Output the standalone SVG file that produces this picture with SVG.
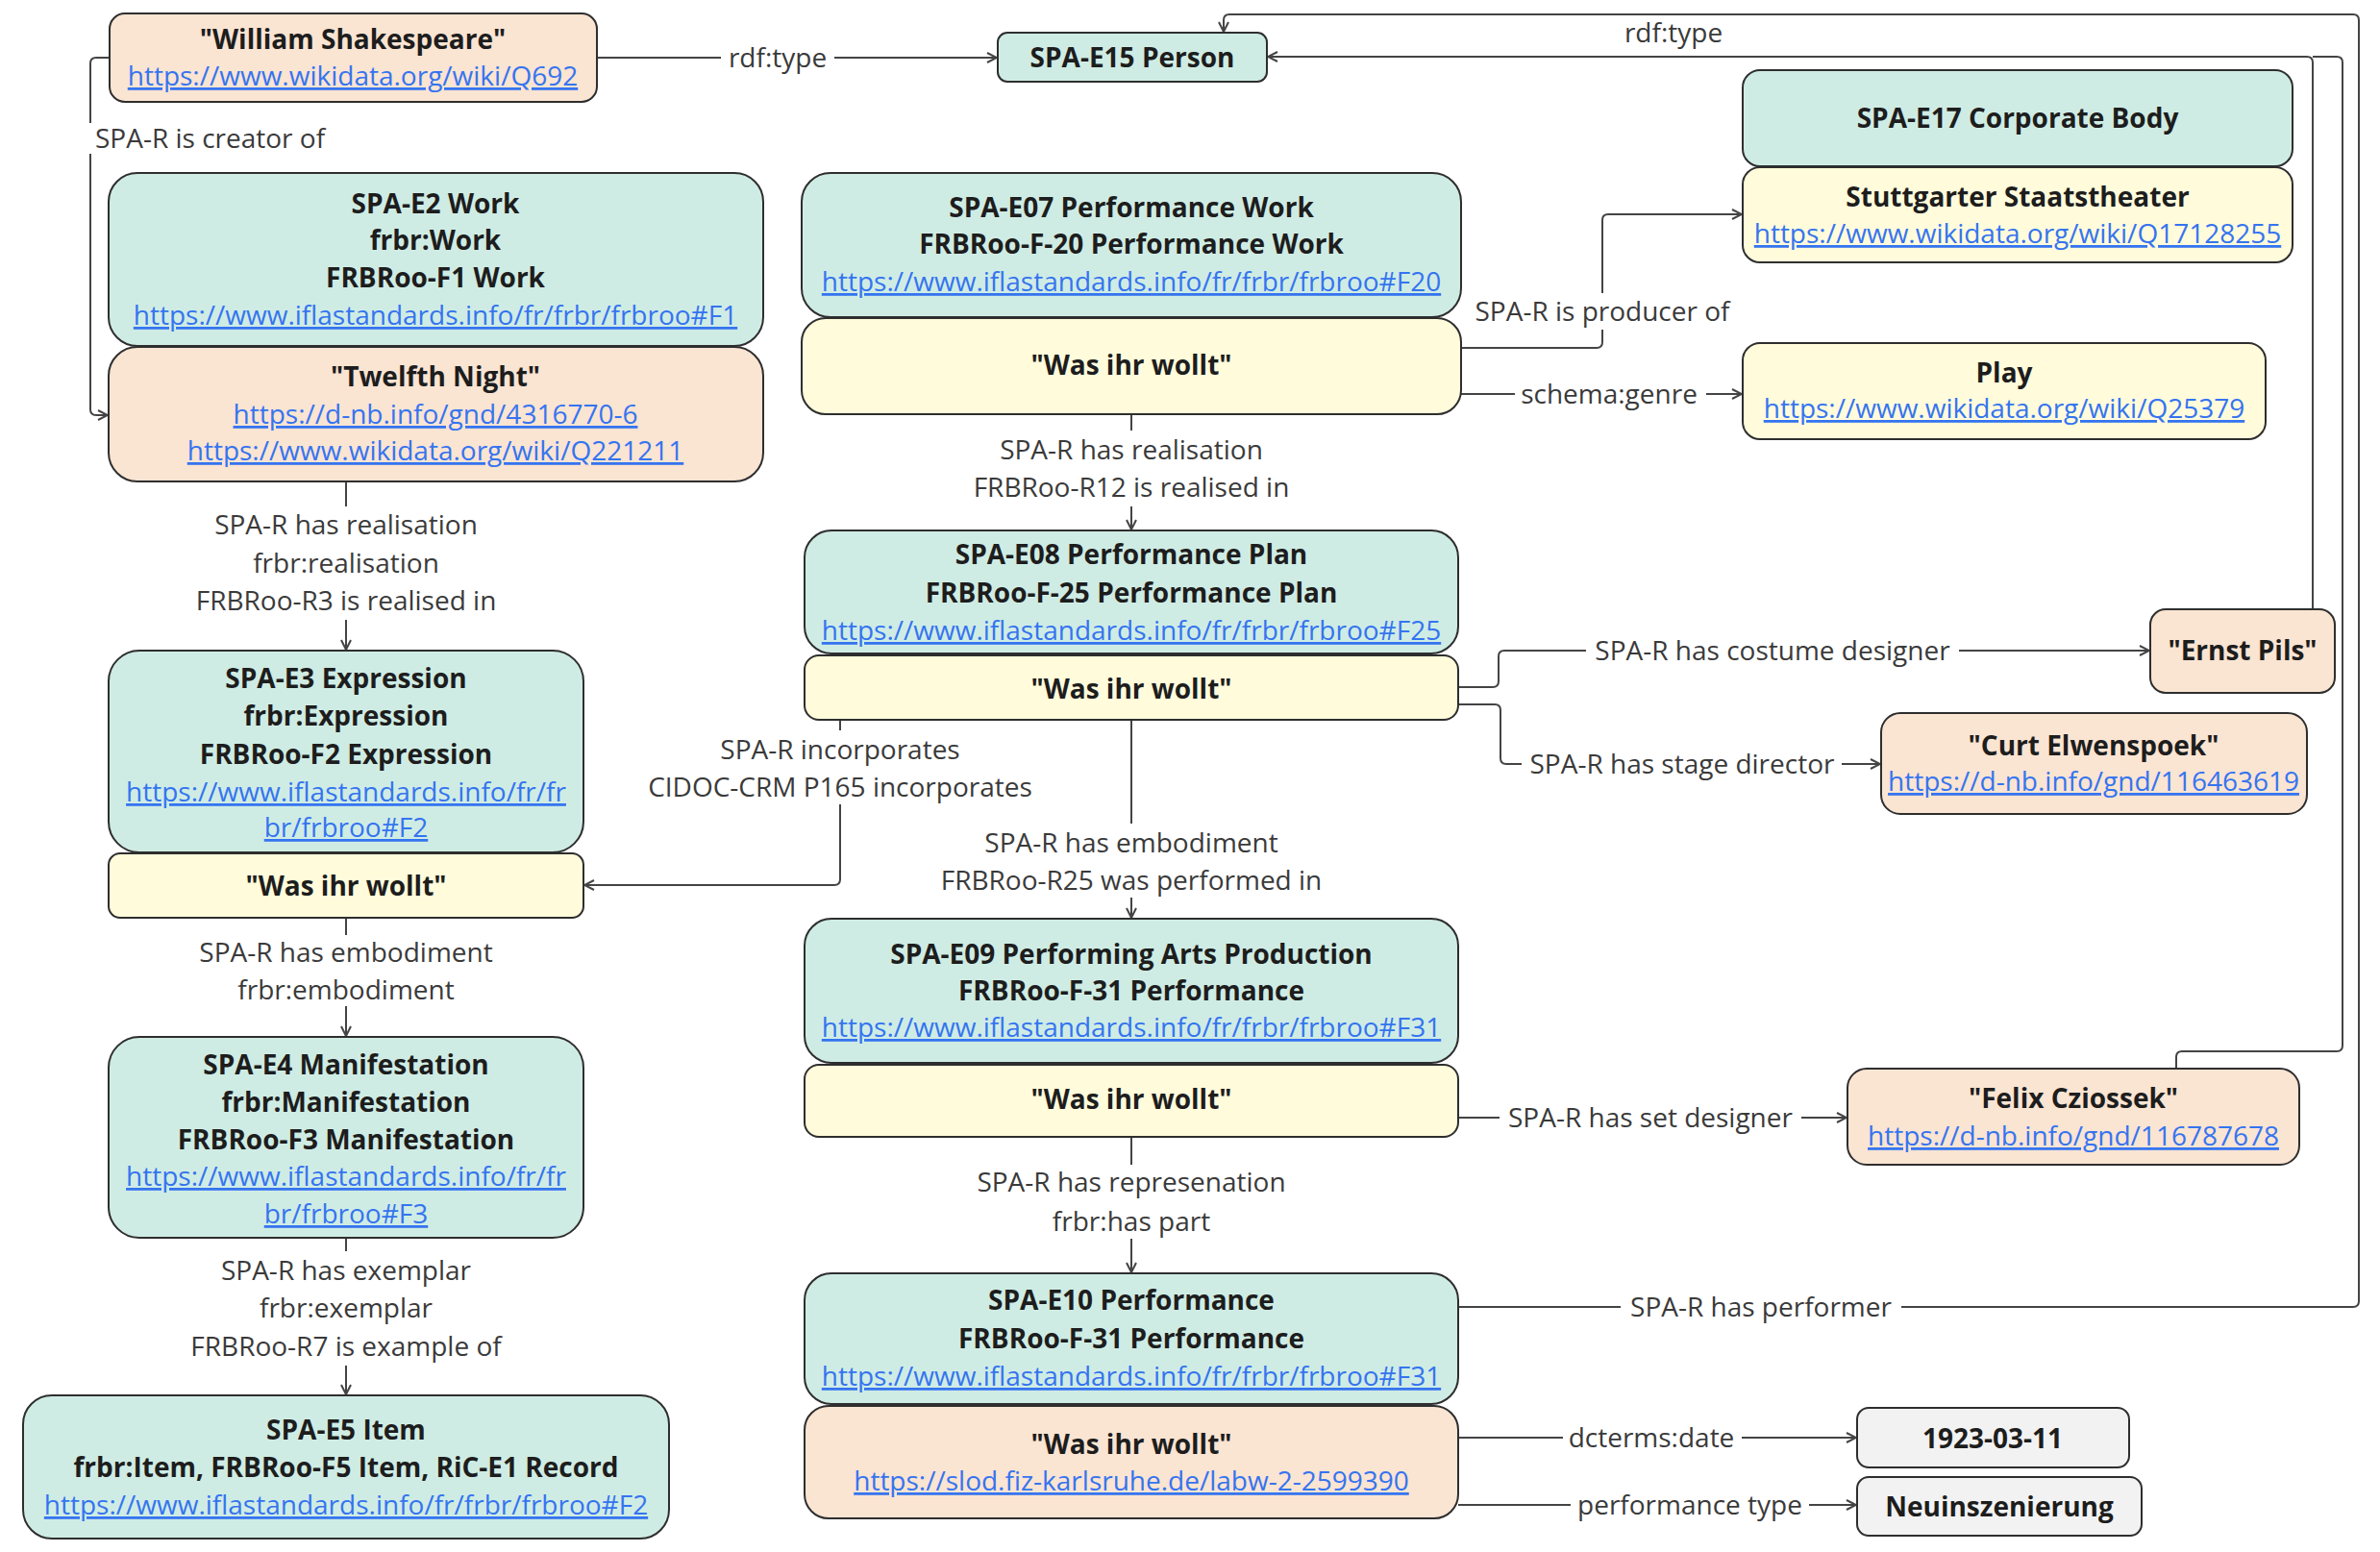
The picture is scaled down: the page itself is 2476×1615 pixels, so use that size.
<svg xmlns="http://www.w3.org/2000/svg" width="2476" height="1615" viewBox="0 0 2476 1615">
<defs>
<style>
text{font-family:"Open Sans","Noto Sans","Liberation Sans",sans-serif;font-size:28px;text-anchor:middle}
.t{font-weight:bold;fill:#1d1d1d}
.l{fill:#3574f0;text-decoration:underline}
.e{fill:#3a3a3a}
.teal{fill:#cfece4;stroke:#2e2e2e;stroke-width:2}
.yel{fill:#fffbdb;stroke:#2e2e2e;stroke-width:2}
.pch{fill:#fae4d2;stroke:#2e2e2e;stroke-width:2}
.gry{fill:#f2f2f2;stroke:#2e2e2e;stroke-width:2}
.c{fill:none;stroke:#444;stroke-width:2}
.a{marker-end:url(#arr)}
</style>
<marker id="arr" viewBox="0 0 12 12" refX="11" refY="6" markerWidth="12" markerHeight="12" markerUnits="userSpaceOnUse" orient="auto">
<path d="M1,1 L11,6 L1,11" fill="none" stroke="#444" stroke-width="2"/>
</marker>
</defs>
<rect width="2476" height="1615" fill="#ffffff"/>

<g id="connectors">
<!-- Shakespeare -> Person -->
<path class="c" d="M621,60 H750"/>
<path class="c a" d="M868,60 H1037"/>
<text class="e" x="809" y="70">rdf:type</text>
<!-- creator of -->
<path class="c" d="M113,60 H100 Q94,60 94,66 V128"/>
<path class="c a" d="M94,160 V426 Q94,432 100,432 H112"/>
<text class="e" x="99" y="154" style="text-anchor:start">SPA-R is creator of</text>
<!-- realisation (Twelfth Night -> E3) -->
<path class="c" d="M360,501 V527"/>
<path class="c a" d="M360,645 V676"/>
<text class="e" x="360" y="556">SPA-R has realisation</text>
<text class="e" x="360" y="596">frbr:realisation</text>
<text class="e" x="360" y="635">FRBRoo-R3 is realised in</text>
<!-- embodiment E3 -> E4 -->
<path class="c" d="M360,955 V973"/>
<path class="c a" d="M360,1047 V1078"/>
<text class="e" x="360" y="1001">SPA-R has embodiment</text>
<text class="e" x="360" y="1040">frbr:embodiment</text>
<!-- exemplar E4 -> E5 -->
<path class="c" d="M360,1288 V1302"/>
<path class="c a" d="M360,1421 V1451"/>
<text class="e" x="360" y="1332">SPA-R has exemplar</text>
<text class="e" x="360" y="1371">frbr:exemplar</text>
<text class="e" x="360" y="1411">FRBRoo-R7 is example of</text>
<!-- E07 -> E08 -->
<path class="c" d="M1177,431 V448"/>
<path class="c a" d="M1177,527 V551"/>
<text class="e" x="1177" y="478">SPA-R has realisation</text>
<text class="e" x="1177" y="517">FRBRoo-R12 is realised in</text>
<!-- incorporates -->
<path class="c" d="M874,749 V760"/>
<path class="c a" d="M874,837 V915 Q874,921 868,921 H608"/>
<text class="e" x="874" y="790">SPA-R incorporates</text>
<text class="e" x="874" y="829">CIDOC-CRM P165 incorporates</text>
<!-- E08 -> E09 -->
<path class="c" d="M1177,749 V857"/>
<path class="c a" d="M1177,934 V955"/>
<text class="e" x="1177" y="887">SPA-R has embodiment</text>
<text class="e" x="1177" y="926">FRBRoo-R25 was performed in</text>
<!-- E09 -> E10 -->
<path class="c" d="M1177,1183 V1212"/>
<path class="c a" d="M1177,1289 V1324"/>
<text class="e" x="1177" y="1240">SPA-R has represenation</text>
<text class="e" x="1177" y="1281">frbr:has part</text>
<!-- producer -->
<path class="c" d="M1520,362 H1661 Q1667,362 1667,356 V343"/>
<path class="c a" d="M1667,305 V229 Q1667,223 1673,223 H1812"/>
<text class="e" x="1667" y="334">SPA-R is producer of</text>
<!-- genre -->
<path class="c" d="M1520,410 H1576"/>
<path class="c a" d="M1775,410 H1812"/>
<text class="e" x="1674" y="420">schema:genre</text>
<!-- costume designer -->
<path class="c" d="M1517,715 H1553 Q1559,715 1559,709 V683 Q1559,677 1565,677 H1650"/>
<path class="c a" d="M2038,677 H2236"/>
<text class="e" x="1844" y="687">SPA-R has costume designer</text>
<!-- stage director -->
<path class="c" d="M1517,733 H1555 Q1561,733 1561,739 V789 Q1561,795 1567,795 H1583"/>
<path class="c a" d="M1916,795 H1956"/>
<text class="e" x="1750" y="805">SPA-R has stage director</text>
<!-- set designer -->
<path class="c" d="M1517,1163 H1560"/>
<path class="c a" d="M1874,1163 H1921"/>
<text class="e" x="1717" y="1173">SPA-R has set designer</text>
<!-- performer -->
<path class="c" d="M1517,1360 H1686"/>
<path class="c a" d="M1978,1360 H2448 Q2454,1360 2454,1354 V21 Q2454,15 2448,15 H1279 Q1273,15 1273,21 V33"/>
<text class="e" x="1832" y="1370">SPA-R has performer</text>
<!-- Ernst Pils -> Person -->
<path class="c a" d="M2406,634 V65 Q2406,59 2400,59 H1319"/>
<!-- Felix -> Person -->
<path class="c" d="M2264,1112 V1100 Q2264,1094 2270,1094 H2431 Q2437,1094 2437,1088 V65 Q2437,59 2431,59 H2406"/>
<text class="e" x="1741" y="44">rdf:type</text>
<!-- date -->
<path class="c" d="M1517,1496 H1626"/>
<path class="c a" d="M1812,1496 H1931"/>
<text class="e" x="1718" y="1506">dcterms:date</text>
<!-- performance type -->
<path class="c" d="M1517,1566 H1634"/>
<path class="c a" d="M1882,1566 H1931"/>
<text class="e" x="1758" y="1576">performance type</text>
</g>

<g id="shakespeare">
<rect class="pch" x="114" y="14" width="507" height="92" rx="16"/>
<text class="t" x="367" y="51">"William Shakespeare"</text>
<text class="l" x="367" y="89">https://www.wikidata.org/wiki/Q692</text>
</g>

<g id="person">
<rect class="teal" x="1038" y="34" width="280" height="51" rx="10"/>
<text class="t" x="1178" y="70">SPA-E15 Person</text>
</g>

<g id="corporate-body">
<rect class="teal" x="1813" y="73" width="572" height="100" rx="18"/>
<text class="t" x="2099" y="133">SPA-E17 Corporate Body</text>
</g>
<g id="stuttgarter">
<rect class="yel" x="1813" y="174" width="572" height="99" rx="18"/>
<text class="t" x="2099" y="215">Stuttgarter Staatstheater</text>
<text class="l" x="2099" y="253">https://www.wikidata.org/wiki/Q17128255</text>
</g>

<g id="play">
<rect class="yel" x="1813" y="357" width="544" height="100" rx="18"/>
<text class="t" x="2085" y="398">Play</text>
<text class="l" x="2085" y="435">https://www.wikidata.org/wiki/Q25379</text>
</g>

<g id="e2-work">
<rect class="teal" x="113" y="180" width="681" height="180" rx="30"/>
<text class="t" x="453" y="222">SPA-E2 Work</text>
<text class="t" x="453" y="260">frbr:Work</text>
<text class="t" x="453" y="299">FRBRoo-F1 Work</text>
<text class="l" x="453" y="338">https://www.iflastandards.info/fr/frbr/frbroo#F1</text>
</g>
<g id="twelfth-night">
<rect class="pch" x="113" y="361" width="681" height="140" rx="30"/>
<text class="t" x="453" y="402">"Twelfth Night"</text>
<text class="l" x="453" y="441">https://d-nb.info/gnd/4316770-6</text>
<text class="l" x="453" y="479">https://www.wikidata.org/wiki/Q221211</text>
</g>

<g id="e07">
<rect class="teal" x="834" y="180" width="686" height="150" rx="30"/>
<text class="t" x="1177" y="226">SPA-E07 Performance Work</text>
<text class="t" x="1177" y="264">FRBRoo-F-20 Performance Work</text>
<text class="l" x="1177" y="303">https://www.iflastandards.info/fr/frbr/frbroo#F20</text>
</g>
<g id="e07-title">
<rect class="yel" x="834" y="331" width="686" height="100" rx="25"/>
<text class="t" x="1177" y="390">"Was ihr wollt"</text>
</g>

<g id="e08">
<rect class="teal" x="837" y="552" width="680" height="128" rx="28"/>
<text class="t" x="1177" y="587">SPA-E08 Performance Plan</text>
<text class="t" x="1177" y="627">FRBRoo-F-25 Performance Plan</text>
<text class="l" x="1177" y="666">https://www.iflastandards.info/fr/frbr/frbroo#F25</text>
</g>
<g id="e08-title">
<rect class="yel" x="837" y="682" width="680" height="67" rx="15"/>
<text class="t" x="1177" y="727">"Was ihr wollt"</text>
</g>

<g id="e3">
<rect class="teal" x="113" y="677" width="494" height="210" rx="32"/>
<text class="t" x="360" y="716">SPA-E3 Expression</text>
<text class="t" x="360" y="755">frbr:Expression</text>
<text class="t" x="360" y="795">FRBRoo-F2 Expression</text>
<text class="l" x="360" y="834">https://www.iflastandards.info/fr/fr</text>
<text class="l" x="360" y="871">br/frbroo#F2</text>
</g>
<g id="e3-title">
<rect class="yel" x="113" y="888" width="494" height="67" rx="12"/>
<text class="t" x="360" y="932">"Was ihr wollt"</text>
</g>

<g id="e4">
<rect class="teal" x="113" y="1079" width="494" height="209" rx="32"/>
<text class="t" x="360" y="1118">SPA-E4 Manifestation</text>
<text class="t" x="360" y="1157">frbr:Manifestation</text>
<text class="t" x="360" y="1196">FRBRoo-F3 Manifestation</text>
<text class="l" x="360" y="1234">https://www.iflastandards.info/fr/fr</text>
<text class="l" x="360" y="1273">br/frbroo#F3</text>
</g>

<g id="e5">
<rect class="teal" x="24" y="1452" width="672" height="149" rx="30"/>
<text class="t" x="360" y="1498">SPA-E5 Item</text>
<text class="t" x="360" y="1537">frbr:Item, FRBRoo-F5 Item, RiC-E1 Record</text>
<text class="l" x="360" y="1576">https://www.iflastandards.info/fr/frbr/frbroo#F2</text>
</g>

<g id="e09">
<rect class="teal" x="837" y="956" width="680" height="150" rx="28"/>
<text class="t" x="1177" y="1003">SPA-E09 Performing Arts Production</text>
<text class="t" x="1177" y="1041">FRBRoo-F-31 Performance</text>
<text class="l" x="1177" y="1079">https://www.iflastandards.info/fr/frbr/frbroo#F31</text>
</g>
<g id="e09-title">
<rect class="yel" x="837" y="1108" width="680" height="75" rx="15"/>
<text class="t" x="1177" y="1154">"Was ihr wollt"</text>
</g>

<g id="e10">
<rect class="teal" x="837" y="1325" width="680" height="136" rx="28"/>
<text class="t" x="1177" y="1363">SPA-E10 Performance</text>
<text class="t" x="1177" y="1403">FRBRoo-F-31 Performance</text>
<text class="l" x="1177" y="1442">https://www.iflastandards.info/fr/frbr/frbroo#F31</text>
</g>
<g id="e10-title">
<rect class="pch" x="837" y="1463" width="680" height="117" rx="25"/>
<text class="t" x="1177" y="1513">"Was ihr wollt"</text>
<text class="l" x="1177" y="1551">https://slod.fiz-karlsruhe.de/labw-2-2599390</text>
</g>

<g id="ernst-pils">
<rect class="pch" x="2237" y="634" width="192" height="87" rx="16"/>
<text class="t" x="2333" y="687">"Ernst Pils"</text>
</g>

<g id="curt-elwenspoek">
<rect class="pch" x="1957" y="742" width="443" height="105" rx="20"/>
<text class="t" x="2178" y="786">"Curt Elwenspoek"</text>
<text class="l" x="2178" y="823">https://d-nb.info/gnd/116463619</text>
</g>

<g id="felix-cziossek">
<rect class="pch" x="1922" y="1112" width="470" height="100" rx="20"/>
<text class="t" x="2157" y="1153">"Felix Cziossek"</text>
<text class="l" x="2157" y="1192">https://d-nb.info/gnd/116787678</text>
</g>

<g id="date">
<rect class="gry" x="1932" y="1465" width="283" height="62" rx="12"/>
<text class="t" x="2073" y="1507">1923-03-11</text>
</g>

<g id="performance-type">
<rect class="gry" x="1932" y="1537" width="296" height="61" rx="12"/>
<text class="t" x="2080" y="1578">Neuinszenierung</text>
</g>
</svg>
